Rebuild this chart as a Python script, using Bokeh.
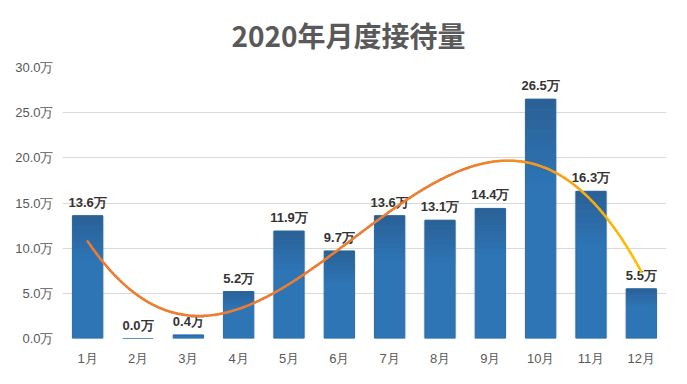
import numpy as np
from bokeh.plotting import figure
from bokeh.models import Range1d, FixedTicker, PrintfTickFormatter, ColumnDataSource
from bokeh.core.properties import value
from bokeh.embed import file_html
from bokeh.resources import INLINE

months = ["1月", "2月", "3月", "4月", "5月", "6月", "7月", "8月", "9月", "10月", "11月", "12月"]
visitors = [13.6, 0.0, 0.4, 5.2, 11.9, 9.7, 13.6, 13.1, 14.4, 26.5, 16.3, 5.5]
y_ticks = [0, 5, 10, 15, 20, 25, 30]

xs = list(range(1, len(months) + 1))
labels = [f"{v:.1f}万" for v in visitors]
src = ColumnDataSource(dict(x=xs, y=visitors, lab=labels))

p = figure(width=671, height=368, output_backend="svg", toolbar_location=None,
           x_range=Range1d(0.5, 12.5), y_range=Range1d(0, 30),
           min_border_left=62, min_border_right=5, min_border_bottom=27, min_border_top=10)
p.title.text = "2020年月度接待量"
p.title.align = "left"
p.title.offset = 169
p.title.text_font = "Noto Sans CJK SC"
p.title.text_font_size = "28px"
p.title.text_font_style = "bold"
p.title.text_color = "#595959"
p.title.standoff = 25
p.outline_line_color = None
p.background_fill_color = "white"
p.border_fill_color = "white"

p.xgrid.grid_line_color = None
p.ygrid.grid_line_color = "#D9D9D9"
p.ygrid.ticker = FixedTicker(ticks=y_ticks)

p.yaxis.ticker = FixedTicker(ticks=y_ticks)
p.yaxis.formatter = PrintfTickFormatter(format="%.1f万")
p.xaxis.ticker = FixedTicker(ticks=xs)
p.xaxis.major_label_overrides = {x: m for x, m in zip(xs, months)}
for ax in (p.xaxis, p.yaxis):
    ax.axis_line_color = None
    ax.major_tick_line_color = None
    ax.minor_tick_line_color = None
    ax.major_label_text_font = "Liberation Sans"
    ax.major_label_text_font_size = "13px"
    ax.major_label_text_color = "#595959"
p.yaxis.major_label_standoff = 3
p.xaxis.major_label_standoff = 6

# soft shadow
p.vbar(x="x", top="y", width=0.66, bottom=0, source=src, fill_color="#BFBFBF",
       fill_alpha=0.3, line_color=None)
p.vbar(x="x", top="y", width=0.6, bottom=0, source=src, fill_color="#2E75B6",
       line_color="#2C6CA8", line_width=1)
# darker gradient toward the top of each bar
top_c = np.array([0x2A, 0x62, 0x98])
body_c = np.array([0x2E, 0x75, 0xB6])
n_layers = 8
for i in range(n_layers):
    c = (top_c * (1 - i / n_layers) + body_c * (i / n_layers)).astype(int)
    bots = [v * (1 - 0.35 * (i + 1) / n_layers) for v in visitors]
    p.vbar(x=xs, top=[v * (1 - 0.35 * i / n_layers) for v in visitors], bottom=bots,
           width=0.6, fill_color="#%02x%02x%02x" % tuple(c), line_color=None)

p.text(x="x", y="y", text="lab", source=src, text_align="center", text_baseline="bottom",
       y_offset=-6, text_font=value("Liberation Sans"), text_font_size="13px",
       text_font_style="bold", text_color="#333333")

# polynomial (3rd order) trend line
coef = np.polyfit(xs, visitors, 3)
tx = np.linspace(1, 12, 200)
ty = np.polyval(coef, tx)
c0 = np.array([0xED, 0x7D, 0x31])
c1 = np.array([0xFF, 0xC0, 0x00])
segx, segy, cols = [], [], []
for i in range(len(tx) - 1):
    t = np.clip((tx[i] - 8.5) / 3.5, 0, 1)
    c = (c0 * (1 - t) + c1 * t).astype(int)
    segx.append([tx[i], tx[i + 1]])
    segy.append([ty[i], ty[i + 1]])
    cols.append("#%02x%02x%02x" % tuple(c))
p.multi_line(xs=segx, ys=segy, line_color=cols, line_width=2.5, line_cap="round")

open("out.html", "w").write(file_html(p, INLINE))
